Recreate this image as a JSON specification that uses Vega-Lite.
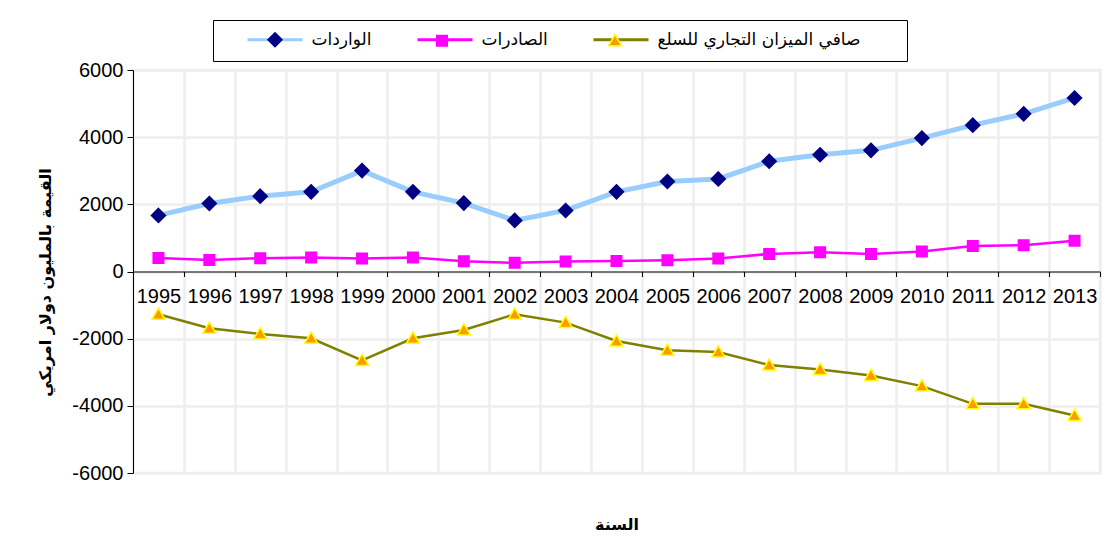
{
  "$schema": "https://vega.github.io/schema/vega-lite/v6.json",
  "width": 967,
  "height": 403,
  "autosize": {"type": "none"},
  "padding": {"left": 133, "top": 70, "right": 7, "bottom": 79},
  "background": "white",
  "config": {
    "view": {"stroke": "#EEEEEE", "strokeWidth": 2.5},
    "font": "Liberation Sans"
  },
  "data": {
    "values": [
      {"year": "1995", "series": "الواردات", "value": 1670},
      {"year": "1996", "series": "الواردات", "value": 2026},
      {"year": "1997", "series": "الواردات", "value": 2243},
      {"year": "1998", "series": "الواردات", "value": 2372},
      {"year": "1999", "series": "الواردات", "value": 3004},
      {"year": "2000", "series": "الواردات", "value": 2372},
      {"year": "2001", "series": "الواردات", "value": 2036},
      {"year": "2002", "series": "الواردات", "value": 1522},
      {"year": "2003", "series": "الواردات", "value": 1818},
      {"year": "2004", "series": "الواردات", "value": 2372},
      {"year": "2005", "series": "الواردات", "value": 2678},
      {"year": "2006", "series": "الواردات", "value": 2757},
      {"year": "2007", "series": "الواردات", "value": 3281},
      {"year": "2008", "series": "الواردات", "value": 3478},
      {"year": "2009", "series": "الواردات", "value": 3607},
      {"year": "2010", "series": "الواردات", "value": 3972},
      {"year": "2011", "series": "الواردات", "value": 4358},
      {"year": "2012", "series": "الواردات", "value": 4694},
      {"year": "2013", "series": "الواردات", "value": 5168},
      {"year": "1995", "series": "الصادرات", "value": 405},
      {"year": "1996", "series": "الصادرات", "value": 346},
      {"year": "1997", "series": "الصادرات", "value": 395},
      {"year": "1998", "series": "الصادرات", "value": 415},
      {"year": "1999", "series": "الصادرات", "value": 385},
      {"year": "2000", "series": "الصادرات", "value": 415},
      {"year": "2001", "series": "الصادرات", "value": 306},
      {"year": "2002", "series": "الصادرات", "value": 257},
      {"year": "2003", "series": "الصادرات", "value": 296},
      {"year": "2004", "series": "الصادرات", "value": 316},
      {"year": "2005", "series": "الصادرات", "value": 336},
      {"year": "2006", "series": "الصادرات", "value": 385},
      {"year": "2007", "series": "الصادرات", "value": 524},
      {"year": "2008", "series": "الصادرات", "value": 573},
      {"year": "2009", "series": "الصادرات", "value": 524},
      {"year": "2010", "series": "الصادرات", "value": 593},
      {"year": "2011", "series": "الصادرات", "value": 761},
      {"year": "2012", "series": "الصادرات", "value": 781},
      {"year": "2013", "series": "الصادرات", "value": 919},
      {"year": "1995", "series": "صافي الميزان التجاري للسلع", "value": -1274},
      {"year": "1996", "series": "صافي الميزان التجاري للسلع", "value": -1692},
      {"year": "1997", "series": "صافي الميزان التجاري للسلع", "value": -1861},
      {"year": "1998", "series": "صافي الميزان التجاري للسلع", "value": -1990},
      {"year": "1999", "series": "صافي الميزان التجاري للسلع", "value": -2647},
      {"year": "2000", "series": "صافي الميزان التجاري للسلع", "value": -1990},
      {"year": "2001", "series": "صافي الميزان التجاري للسلع", "value": -1741},
      {"year": "2002", "series": "صافي الميزان التجاري للسلع", "value": -1274},
      {"year": "2003", "series": "صافي الميزان التجاري للسلع", "value": -1522},
      {"year": "2004", "series": "صافي الميزان التجاري للسلع", "value": -2070},
      {"year": "2005", "series": "صافي الميزان التجاري للسلع", "value": -2348},
      {"year": "2006", "series": "صافي الميزان التجاري للسلع", "value": -2398},
      {"year": "2007", "series": "صافي الميزان التجاري للسلع", "value": -2786},
      {"year": "2008", "series": "صافي الميزان التجاري للسلع", "value": -2915},
      {"year": "2009", "series": "صافي الميزان التجاري للسلع", "value": -3095},
      {"year": "2010", "series": "صافي الميزان التجاري للسلع", "value": -3413},
      {"year": "2011", "series": "صافي الميزان التجاري للسلع", "value": -3940},
      {"year": "2012", "series": "صافي الميزان التجاري للسلع", "value": -3940},
      {"year": "2013", "series": "صافي الميزان التجاري للسلع", "value": -4289}
    ]
  },
  "encoding": {
    "x": {
      "field": "year",
      "type": "ordinal",
      "scale": {"paddingInner": 0, "paddingOuter": 0},
      "axis": {
        "orient": "bottom",
        "offset": -201.5,
        "tickBand": "extent",
        "grid": true,
        "gridColor": "#EEEEEE",
        "gridWidth": 2.5,
        "domainColor": "black",
        "domainWidth": 1,
        "tickColor": "black",
        "tickSize": 5,
        "labelAngle": 0,
        "labelFont": "Liberation Sans",
        "labelFontSize": 20,
        "labelColor": "black",
        "labelPadding": 10,
        "title": "السنة",
        "titleFont": "DejaVu Sans",
        "titleFontSize": 16,
        "titleFontWeight": "bold",
        "titleColor": "black",
        "titleY": 253,
        "titleBaseline": "middle"
      }
    },
    "y": {
      "field": "value",
      "type": "quantitative",
      "scale": {"domain": [-6000, 6000], "nice": false},
      "axis": {
        "values": [-6000, -4000, -2000, 0, 2000, 4000, 6000],
        "labelExpr": "'' + datum.value",
        "grid": true,
        "gridColor": "#EEEEEE",
        "gridWidth": 2.5,
        "domainColor": "black",
        "tickColor": "black",
        "tickSize": 6,
        "labelFont": "Liberation Sans",
        "labelFontSize": 20,
        "labelColor": "black",
        "labelPadding": 4,
        "title": "القيمة بالمليون دولار امريكي",
        "titleFont": "DejaVu Sans",
        "titleFontSize": 16,
        "titleFontWeight": "bold",
        "titleColor": "black",
        "titleAngle": -90,
        "titleX": -88,
        "titleY": 212,
        "titleAlign": "center",
        "titleBaseline": "middle"
      }
    }
  },
  "layer": [
    {
      "mark": {"type": "line"},
      "encoding": {
        "color": {
          "field": "series",
          "type": "nominal",
          "scale": {
            "domain": ["الواردات", "الصادرات", "صافي الميزان التجاري للسلع"],
            "range": ["#99CCFF", "#FF00FF", "#808000"]
          },
          "legend": {
            "orient": "none",
            "legendX": 80,
            "legendY": -50,
            "direction": "horizontal",
            "title": "-",
            "titleOrient": "left",
            "titleColor": "transparent",
            "titleFontSize": 10,
            "titlePadding": 20,
            "titleBaseline": "middle",
            "padding": 11,
            "symbolType": "M-5.5,0H5.5M0,-1.4L0,-1.4M0,1.4L0,1.4",
            "symbolSize": 100,
            "symbolStrokeWidth": 3,
            "symbolOffset": 18.5,
            "labelOffset": 28,
            "columnPadding": 39,
            "labelFont": "DejaVu Sans",
            "labelFontSize": 17,
            "labelColor": "black",
            "labelLimit": 400
          }
        },
        "strokeWidth": {
          "condition": {"test": "datum.series === 'الواردات'", "value": 5},
          "value": 2.5
        }
      }
    },
    {
      "mark": {"type": "point", "filled": true, "opacity": 1, "strokeWidth": 1.5, "size": 100},
      "encoding": {
        "fill": {
          "field": "series",
          "type": "nominal",
          "scale": {
            "domain": ["الواردات", "الصادرات", "صافي الميزان التجاري للسلع", "-"],
            "range": ["#000080", "#FF00FF", "#FF9900", "#FF9900"]
          },
          "legend": {
            "values": ["الواردات", "الصادرات", "صافي الميزان التجاري للسلع"],
            "orient": "none",
            "legendX": 80,
            "legendY": -50,
            "direction": "horizontal",
            "title": "-",
            "titleOrient": "left",
            "titleColor": "transparent",
            "titleFontSize": 10,
            "titlePadding": 20,
            "titleBaseline": "middle",
            "padding": 11,
            "strokeColor": "black",
            "symbolSize": 100,
            "symbolStrokeWidth": 1.5,
            "symbolOffset": 18.5,
            "labelOffset": 28,
            "columnPadding": 39,
            "labelFont": "DejaVu Sans",
            "labelFontSize": 17,
            "labelColor": "transparent",
            "labelLimit": 400
          }
        },
        "stroke": {
          "field": "series",
          "type": "nominal",
          "scale": {
            "domain": ["الواردات", "الصادرات", "صافي الميزان التجاري للسلع", "-"],
            "range": ["#000080", "#FF00FF", "#FFFF00", "#FFFF00"]
          }
        },
        "shape": {
          "field": "series",
          "type": "nominal",
          "scale": {
            "domain": ["الواردات", "الصادرات", "صافي الميزان التجاري للسلع", "-"],
            "range": [
              "M-5.5,0L-5.5,0M5.5,0L5.5,0M0,-1.4L1.4,0L0,1.4L-1.4,0Z",
              "M-5.5,0L-5.5,0M5.5,0L5.5,0M-1.05,-1.05H1.05V1.05H-1.05Z",
              "M-5.5,0L-5.5,0M55.6,0L55.6,0M0,-1.25L1.3,1H-1.3Z",
              "circle"
            ]
          }
        }
      }
    }
  ]
}
